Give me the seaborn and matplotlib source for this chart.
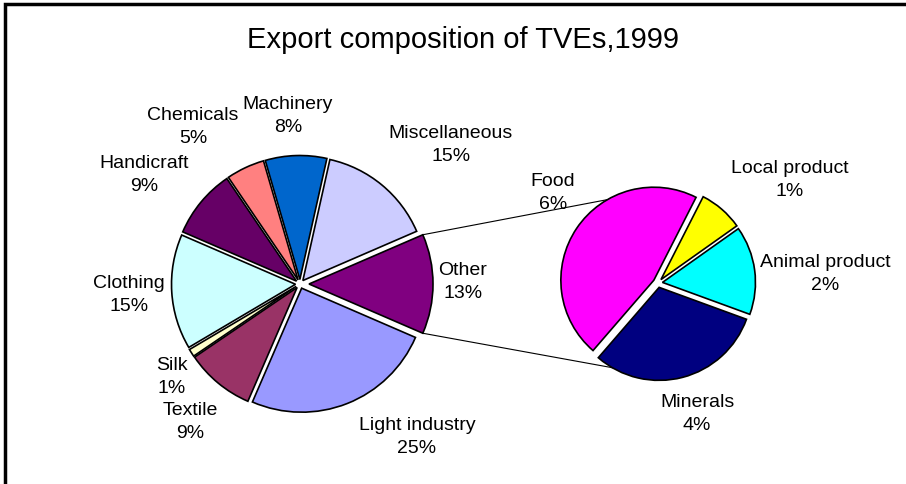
import numpy as np
import seaborn as sns
import matplotlib.pyplot as plt

# main pie, clockwise starting with Miscellaneous
main_labels = ['Miscellaneous', 'Other', 'Light industry', 'Textile', 'Silk',
               'Clothing', 'Handicraft', 'Chemicals', 'Machinery']
main_values = [15, 13, 25, 9, 1, 15, 9, 5, 8]
main_colors = ['#CCCCFF', '#800080', '#9999FF', '#993366', '#FFFFCC',
               '#CCFFFF', '#660066', '#FF8080', '#0066CC']

# breakdown of "Other", clockwise starting with Local product
sub_labels = ['Local product', 'Animal product', 'Minerals', 'Food']
sub_values = [1, 2, 4, 6]
sub_colors = ['#FFFF00', '#00FFFF', '#000080', '#FF00FF']

# label block centres, in picture pixels (x, y from top)
label_pos = {
    'Miscellaneous': (451, 145), 'Other': (463, 282), 'Light industry': (417, 437),
    'Textile': (190, 422), 'Silk': (172, 377), 'Clothing': (129, 295),
    'Handicraft': (144, 175), 'Chemicals': (193, 127), 'Machinery': (288, 116),
    'Local product': (790, 180), 'Animal product': (825, 274),
    'Minerals': (697, 414), 'Food': (553, 193),
}

W, H = 906, 485
sns.set_theme(style='white')
plt.rcParams['font.family'] = ['Liberation Sans', 'DejaVu Sans']
plt.rcParams['text.color'] = 'black'

fig = plt.figure(figsize=(W / 100, H / 100), dpi=100)
ax = fig.add_axes([0, 0, 1, 1])
ax.set_xlim(0, W)
ax.set_ylim(0, H)
ax.set_aspect('equal')
ax.axis('off')

main_c, main_r = (300, H - 285), 124
sub_c, sub_r = (658, H - 284), 93

other_idx = main_labels.index('Other')
other_deg = main_values[other_idx] / sum(main_values) * 360
start = other_deg / 2 + main_values[0] / sum(main_values) * 360
# explode offsets are in pixels here (data units)
explode = [9 if l == 'Other' else 4.5 for l in main_labels]

ax.pie(main_values, colors=main_colors, explode=explode, startangle=start,
       counterclock=False, center=main_c, radius=main_r, frame=True,
       wedgeprops=dict(edgecolor='black', linewidth=1.2))

sub_explode = [5 if l == 'Food' else 4.5 for l in sub_labels]
ax.pie(sub_values, colors=sub_colors, explode=sub_explode, startangle=63,
       counterclock=False, center=sub_c, radius=sub_r, frame=True,
       wedgeprops=dict(edgecolor='black', linewidth=1.2, zorder=3))

# connector lines from the Other slice to the second pie
shift = explode[other_idx]
half = np.radians(other_deg / 2)
for sgn in (1, -1):
    x0 = main_c[0] + shift + main_r * np.cos(half)
    y0 = main_c[1] + sgn * main_r * np.sin(half)
    ax.plot([x0, sub_c[0]], [y0, sub_c[1] + sgn * sub_r],
            color='black', lw=0.8, zorder=2.5)

for lab, val in zip(main_labels + sub_labels, main_values + sub_values):
    x, y = label_pos[lab]
    ax.text(x, H - y, f'{lab}\n{val}%', ha='center', va='center',
            fontsize=14, linespacing=1.45, zorder=2)

ax.text(463, H - 40, 'Export composition of TVEs,1999', ha='center',
        va='center', fontsize=21)

# chart frame (cropped at right and bottom)
ax.plot([5, 5, W], [0, H - 5, H - 5], color='black', lw=2.5,
        solid_joinstyle='miter')

ax.set_xlim(0, W)
ax.set_ylim(0, H)
fig.savefig('out.png', dpi=100)
